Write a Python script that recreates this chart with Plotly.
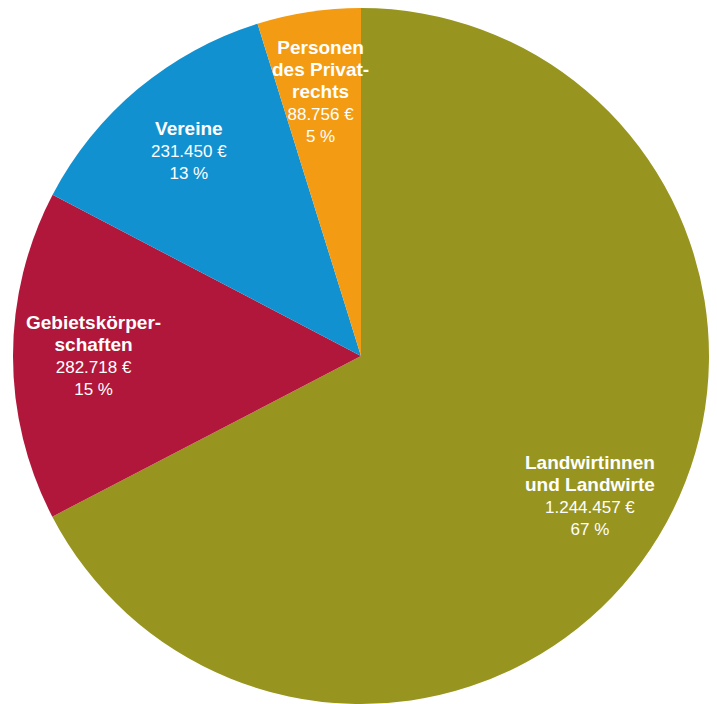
import math
import plotly.graph_objects as go

# Empfängergruppen und Beträge in Euro
gruppen = ["Landwirtinnen und Landwirte", "Gebietskörperschaften", "Vereine", "Personen des Privatrechts"]
anzeige = ["Landwirtinnen<br>und Landwirte", "Gebietskörper-<br>schaften", "Vereine", "Personen<br>des Privat-<br>rechts"]
betraege = [1244457, 282718, 231450, 88756]
farben = ["#97951f", "#b0173a", "#1291d1", "#f39b12"]

summe = sum(betraege)

W, H = 717, 704
# pie domain in px (page body has an 8px margin, so shift up/left)
dom_x = (5, 701)
dom_y = (8, 704)
label_r = 0.77


def euro(v):
    return f"{v:,}".replace(",", ".") + " €"


fig = go.Figure(go.Pie(
    labels=gruppen, values=betraege,
    textinfo="none",
    sort=False, direction="clockwise", rotation=0,
    marker=dict(colors=farben, line=dict(width=0)),
    hoverinfo="label+value+percent",
    domain=dict(x=[dom_x[0] / W, dom_x[1] / W], y=[dom_y[0] / H, dom_y[1] / H]),
))

# labels at the middle angle of each slice
cx = (dom_x[0] + dom_x[1]) / 2
cy = (dom_y[0] + dom_y[1]) / 2
radius = min(dom_x[1] - dom_x[0], dom_y[1] - dom_y[0]) / 2
kum = 0
for a, v in zip(anzeige, betraege):
    theta = (kum + v / 2) / summe * 2 * math.pi
    kum += v
    x = cx + label_r * radius * math.sin(theta)
    y = cy + label_r * radius * math.cos(theta)
    fig.add_annotation(
        x=x / W, y=y / H, xref="paper", yref="paper",
        xanchor="center", yanchor="middle",
        text=(f"<span style='font-size:19px'><b>{a}</b></span><br>"
              f"{euro(v)}<br>{round(v / summe * 100)} %"),
        showarrow=False, align="center",
        font=dict(family="Liberation Sans", size=17, color="white"),
    )

fig.update_layout(
    width=W, height=H, showlegend=False,
    margin=dict(l=0, r=0, t=0, b=0),
    paper_bgcolor="white",
)
fig.write_html("out.html")
